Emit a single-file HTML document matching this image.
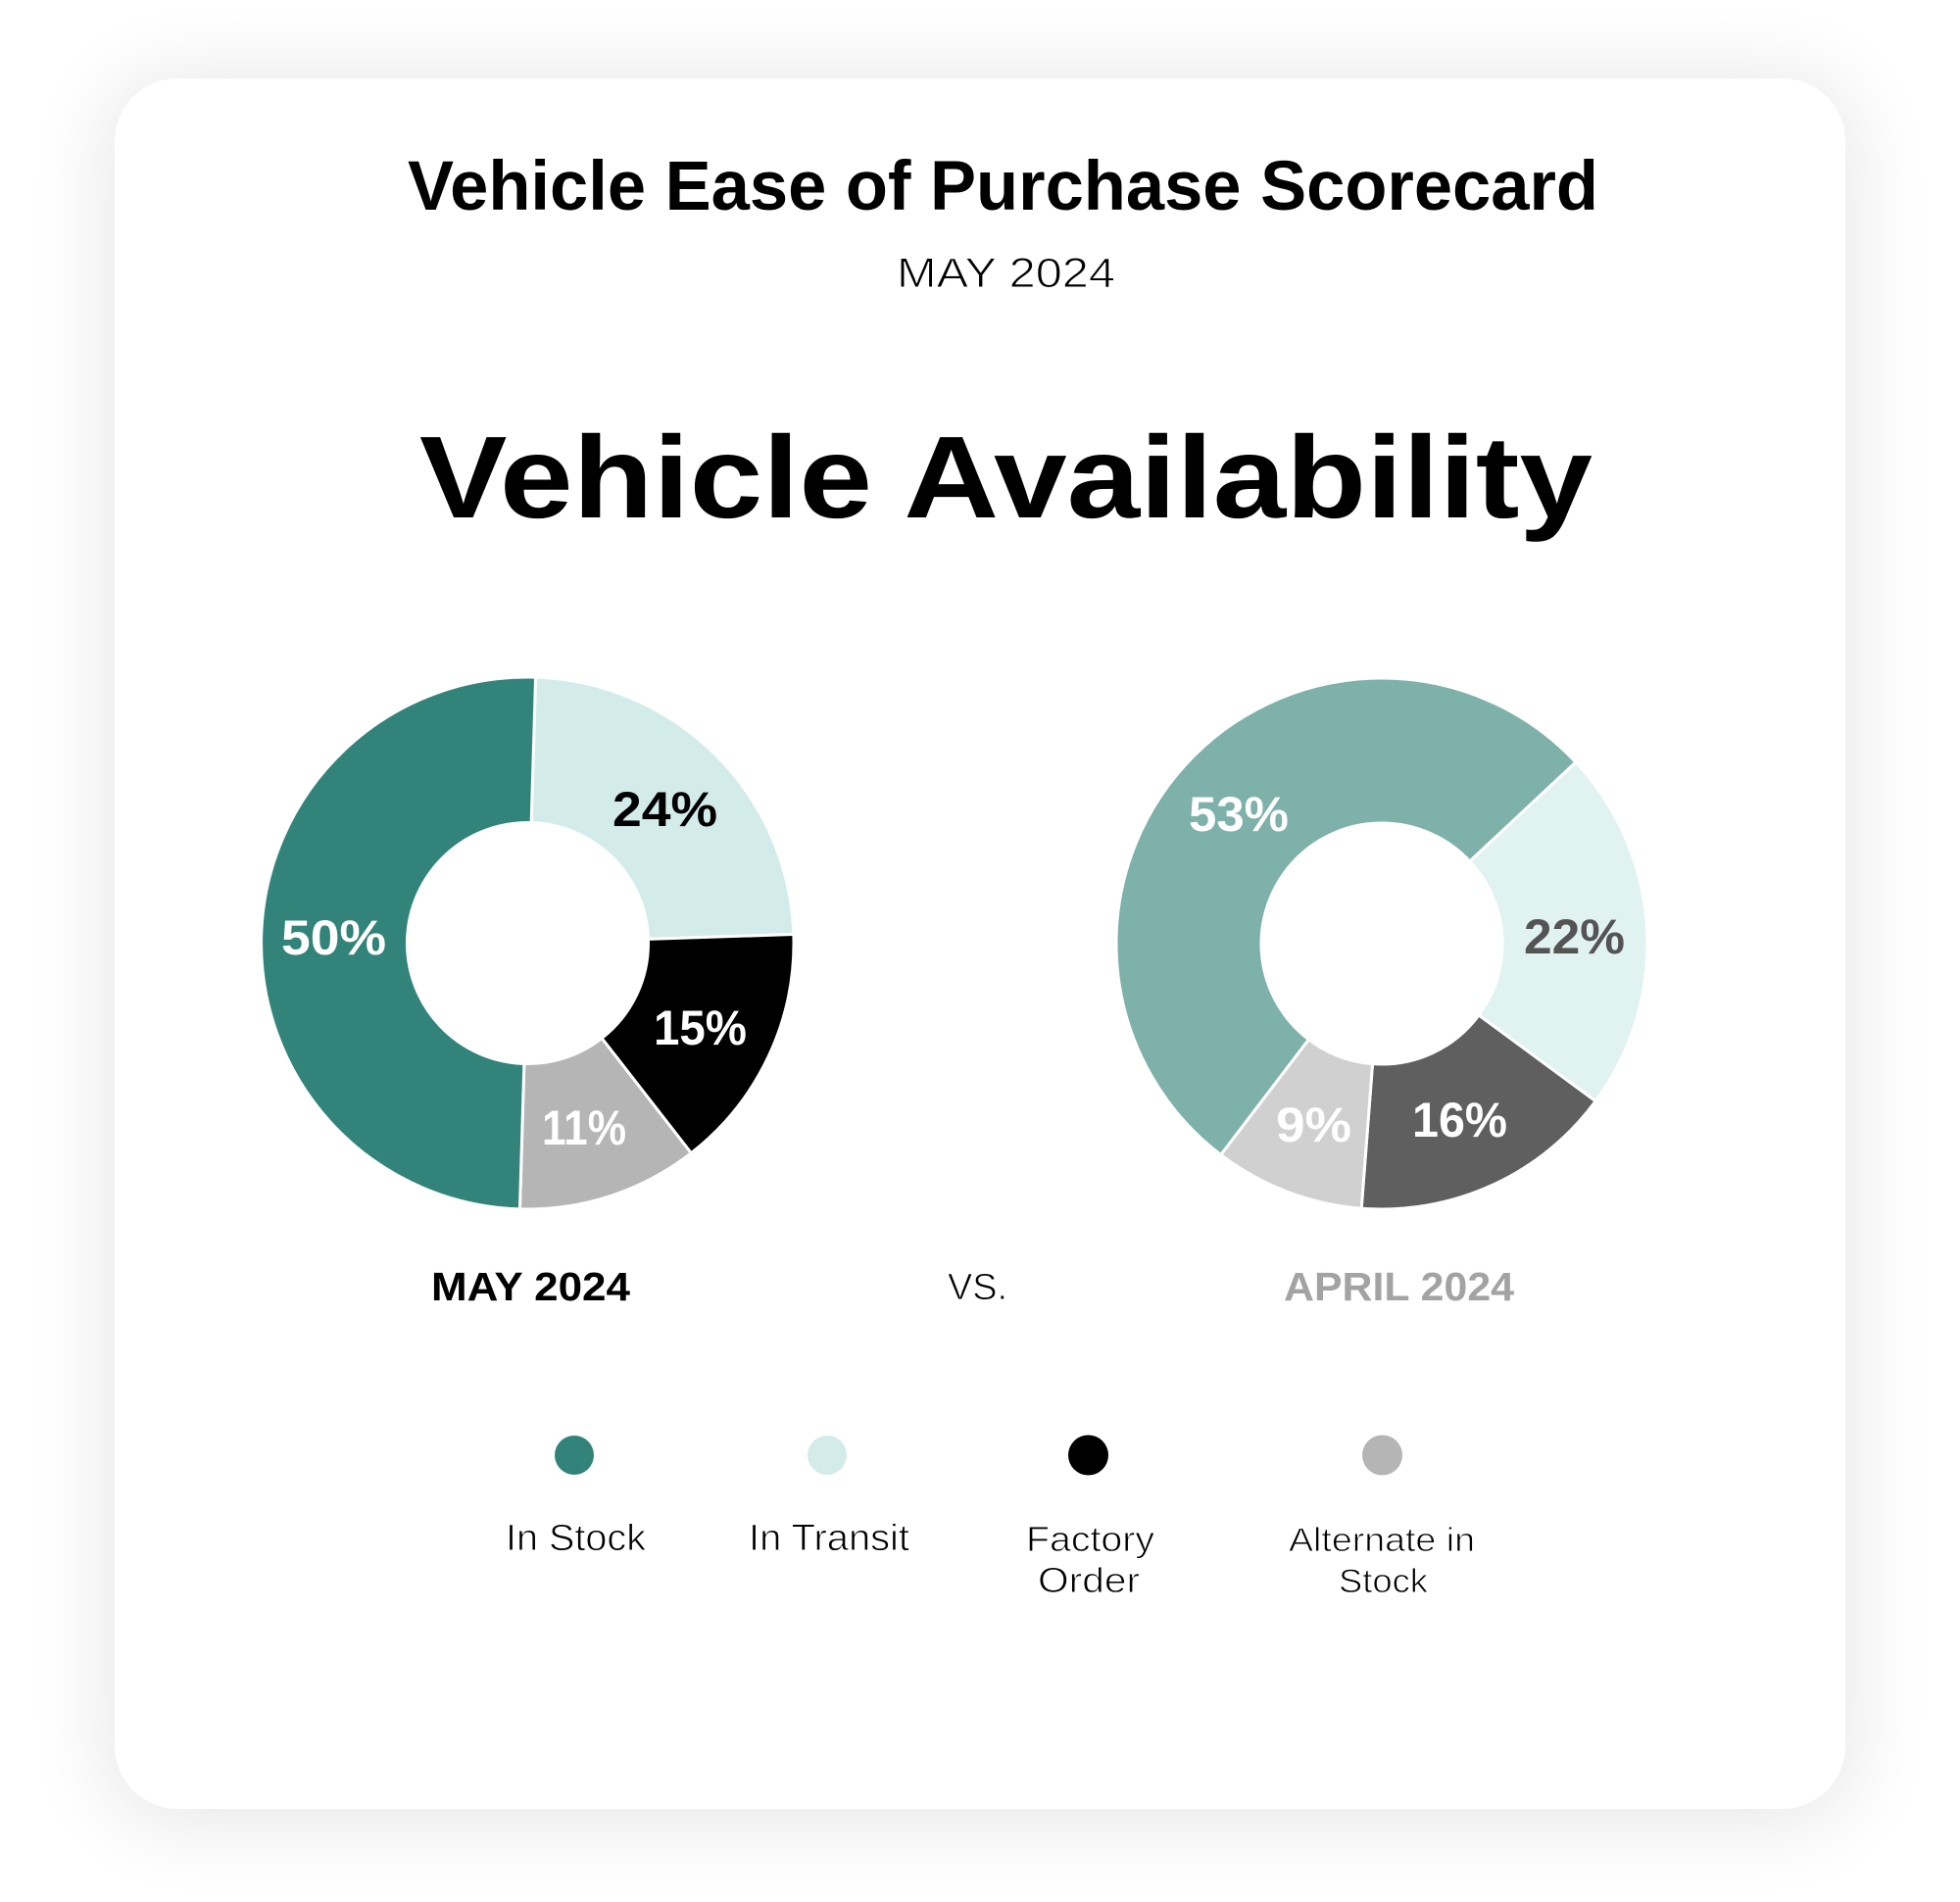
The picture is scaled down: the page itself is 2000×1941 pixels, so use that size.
<!DOCTYPE html>
<html>
<head>
<meta charset="utf-8">
<style>
  html, body { margin:0; padding:0; background:#ffffff; }
  body { width:2000px; height:1941px; position:relative; overflow:hidden; }
  .card {
    position:absolute; left:117px; top:80px; width:1766px; height:1766px;
    background:#ffffff; border-radius:64px;
    box-shadow: 0 6px 80px 12px rgba(0,0,0,0.09);
  }
  svg { position:absolute; left:0; top:0; }
  text { font-family:"Liberation Sans", Arial, sans-serif; }
</style>
</head>
<body>
<div class="card"></div>
<svg width="2000" height="1941" viewBox="0 0 2000 1941" xmlns="http://www.w3.org/2000/svg">
  <!-- Titles -->
  <text x="416" y="214" font-size="71" font-weight="700" fill="#000" textLength="1215" lengthAdjust="spacingAndGlyphs">Vehicle Ease of Purchase Scorecard</text>
  <text x="915" y="293" font-size="43" font-weight="400" fill="#000" stroke="#fff" stroke-width="1" textLength="223" lengthAdjust="spacingAndGlyphs">MAY 2024</text>
  <text x="428" y="528" font-size="119" font-weight="700" fill="#000" textLength="1197" lengthAdjust="spacingAndGlyphs">Vehicle Availability</text>

  <!-- Left donut (May 2024) -->
  <g stroke="#ffffff" stroke-width="3" stroke-linejoin="miter">
    <path d="M546.56 691.12 A271.5 271.5 0 0 1 809.85 953.50 L661.43 958.42 A123 123 0 0 0 542.15 839.55 Z" fill="#d3ecea"/>
    <path d="M809.85 953.50 A271.5 271.5 0 0 1 705.28 1176.74 L614.06 1059.56 A123 123 0 0 0 661.43 958.42 Z" fill="#000000"/>
    <path d="M705.28 1176.74 A271.5 271.5 0 0 1 530.44 1233.88 L534.85 1085.45 A123 123 0 0 0 614.06 1059.56 Z" fill="#b4b5b4"/>
    <path d="M530.44 1233.88 A271.5 271.5 0 1 1 546.56 691.12 L542.15 839.55 A123 123 0 1 0 534.85 1085.45 Z" fill="#32847a"/>
  </g>
  <g font-size="50" font-weight="700">
    <text x="625" y="843" fill="#000" textLength="107" lengthAdjust="spacingAndGlyphs">24%</text>
    <text x="287" y="974" fill="#fff" textLength="107" lengthAdjust="spacingAndGlyphs">50%</text>
    <text x="667" y="1066" fill="#fff" textLength="95" lengthAdjust="spacingAndGlyphs">15%</text>
    <text x="553" y="1168" fill="#fff" textLength="86" lengthAdjust="spacingAndGlyphs">11%</text>
  </g>

  <!-- Right donut (April 2024) -->
  <g stroke="#ffffff" stroke-width="3" stroke-linejoin="miter">
    <path d="M1245.78 1178.57 A271 271 0 1 1 1607.93 777.89 L1499.83 878.98 A123 123 0 1 0 1335.46 1060.84 Z" fill="#7eb1a9"/>
    <path d="M1607.93 777.89 A271 271 0 0 1 1628.13 1123.82 L1509.00 1035.99 A123 123 0 0 0 1499.83 878.98 Z" fill="#e0f3f1"/>
    <path d="M1628.13 1123.82 A271 271 0 0 1 1389.21 1233.20 L1400.56 1085.64 A123 123 0 0 0 1509.00 1035.99 Z" fill="#5f5f5f"/>
    <path d="M1389.21 1233.20 A271 271 0 0 1 1245.78 1178.57 L1335.46 1060.84 A123 123 0 0 0 1400.56 1085.64 Z" fill="#cfd0cf"/>
  </g>
  <g font-size="50" font-weight="700">
    <text x="1213" y="848" fill="#fff" textLength="102" lengthAdjust="spacingAndGlyphs">53%</text>
    <text x="1555" y="973" fill="#545454" textLength="103" lengthAdjust="spacingAndGlyphs">22%</text>
    <text x="1441" y="1160" fill="#fff" textLength="97" lengthAdjust="spacingAndGlyphs">16%</text>
    <text x="1302" y="1165" fill="#fff" textLength="77" lengthAdjust="spacingAndGlyphs">9%</text>
  </g>

  <!-- Period labels -->
  <text x="440" y="1327" font-size="41" font-weight="700" fill="#000" textLength="203" lengthAdjust="spacingAndGlyphs">MAY 2024</text>
  <text x="967" y="1326" font-size="38" font-weight="400" fill="#000" stroke="#fff" stroke-width="0.9" textLength="61" lengthAdjust="spacingAndGlyphs">VS.</text>
  <text x="1310" y="1327" font-size="41" font-weight="700" fill="#a3a3a3" textLength="235" lengthAdjust="spacingAndGlyphs">APRIL 2024</text>

  <!-- Legend -->
  <circle cx="586" cy="1485" r="20" fill="#32847a"/>
  <circle cx="844" cy="1485" r="20" fill="#d3ecea"/>
  <circle cx="1110.5" cy="1485" r="20.5" fill="#000000"/>
  <circle cx="1410.5" cy="1485" r="20.5" fill="#b4b5b4"/>

  <g font-weight="400" fill="#000" stroke="#fff" stroke-width="0.9">
    <text x="516" y="1582" font-size="38" textLength="143" lengthAdjust="spacingAndGlyphs">In Stock</text>
    <text x="764" y="1582" font-size="38" textLength="164" lengthAdjust="spacingAndGlyphs">In Transit</text>
    <text x="1047" y="1583" font-size="36" textLength="131" lengthAdjust="spacingAndGlyphs">Factory</text>
    <text x="1059" y="1625" font-size="36" textLength="104" lengthAdjust="spacingAndGlyphs">Order</text>
    <text x="1315" y="1583" font-size="34" textLength="190" lengthAdjust="spacingAndGlyphs">Alternate in</text>
    <text x="1366" y="1625" font-size="34" textLength="91" lengthAdjust="spacingAndGlyphs">Stock</text>
  </g>
</svg>
</body>
</html>
